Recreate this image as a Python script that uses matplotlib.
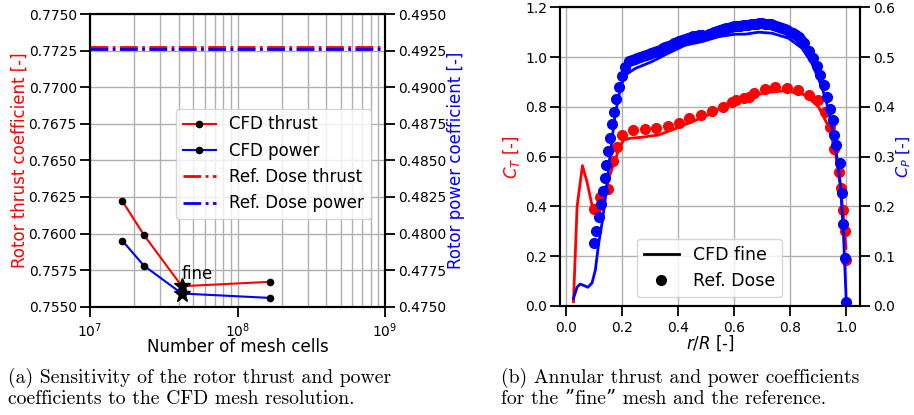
import numpy as np
import matplotlib
matplotlib.use("Agg")
import matplotlib.pyplot as plt

# (a) mesh sensitivity
mesh_cells = [1.66e7, 2.32e7, 4.19e7, 1.66e8]
ct_cfd = [0.7622, 0.7599, 0.7564, 0.7567]
cp_cfd = [0.4795, 0.4778, 0.4759, 0.4756]
ct_ref = 0.77275
cp_ref = 0.49262
fine_idx = 2

# (b) annular coefficients, CFD fine
r_cfd = [0.027, 0.040, 0.059, 0.075, 0.093, 0.105, 0.117, 0.130, 0.140, 0.155, 0.176,
         0.190, 0.206, 0.230, 0.271, 0.330, 0.378, 0.450, 0.520, 0.592, 0.650, 0.711,
         0.782, 0.854, 0.901, 0.937, 0.960, 0.979, 0.990, 0.999]
ct_line = [0.017, 0.40, 0.564, 0.50, 0.406, 0.385, 0.372, 0.40, 0.45, 0.52, 0.587,
           0.635, 0.667, 0.674, 0.678, 0.687, 0.707, 0.740, 0.774, 0.824, 0.840, 0.857,
           0.865, 0.848, 0.800, 0.720, 0.627, 0.480, 0.360, 0.232]
r_cfd_p = [0.027, 0.040, 0.051, 0.065, 0.078, 0.093, 0.105, 0.117, 0.130, 0.140, 0.152,
           0.164, 0.176, 0.188, 0.200, 0.212, 0.247, 0.307, 0.366, 0.426, 0.485, 0.545,
           0.604, 0.640, 0.687, 0.735, 0.794, 0.842, 0.877, 0.913, 0.937, 0.960, 0.979,
           0.990, 1.000]
cp_line = [0.015, 0.038, 0.044, 0.041, 0.0375, 0.046, 0.072, 0.126, 0.17, 0.213, 0.275,
           0.333, 0.385, 0.420, 0.447, 0.464, 0.477, 0.491, 0.508, 0.524, 0.531, 0.541,
           0.546, 0.546, 0.550, 0.548, 0.538, 0.518, 0.488, 0.440, 0.394, 0.327, 0.246,
           0.146, 0.009]

# (b) reference (Dose)
r_ref_t = [0.099, 0.123, 0.149, 0.167, 0.182, 0.200, 0.241, 0.283, 0.322, 0.363, 0.402,
           0.440, 0.482, 0.521, 0.559, 0.592, 0.608, 0.634, 0.652, 0.671, 0.709, 0.747,
           0.788, 0.828, 0.868, 0.899, 0.925, 0.943, 0.958, 0.975, 0.982, 0.987, 0.994,
           0.999]
ct_ref_pts = [0.390, 0.439, 0.468, 0.584, 0.640, 0.686, 0.707, 0.710, 0.714, 0.725, 0.737,
              0.757, 0.767, 0.783, 0.801, 0.821, 0.828, 0.837, 0.841, 0.857, 0.872, 0.879,
              0.877, 0.868, 0.848, 0.829, 0.781, 0.721, 0.629, 0.537, 0.473, 0.387, 0.300,
              0.185]
r_ref_p = [0.101, 0.108, 0.117, 0.125, 0.132, 0.138, 0.144, 0.150, 0.158, 0.164, 0.171,
           0.180, 0.189, 0.200, 0.212, 0.225, 0.235, 0.245, 0.255, 0.265, 0.275, 0.285,
           0.295, 0.305, 0.315, 0.325, 0.335, 0.345, 0.355, 0.365, 0.375, 0.385, 0.395,
           0.405, 0.415, 0.425, 0.435, 0.445, 0.455, 0.465, 0.475, 0.485, 0.510, 0.520,
           0.530, 0.540, 0.550, 0.560, 0.570, 0.580, 0.590, 0.600, 0.610, 0.620, 0.630,
           0.640, 0.650, 0.660, 0.670, 0.680, 0.690, 0.700, 0.710, 0.720, 0.730, 0.740,
           0.750, 0.760, 0.770, 0.780, 0.790, 0.800, 0.810, 0.820, 0.830, 0.840, 0.851,
           0.866, 0.881, 0.895, 0.907, 0.919, 0.931, 0.941, 0.951, 0.958, 0.965, 0.976,
           0.985, 0.989, 0.994, 1.000]
cp_ref_pts = [0.126, 0.151, 0.178, 0.205, 0.230, 0.258, 0.283, 0.312, 0.338, 0.365, 0.390,
              0.416, 0.440, 0.462, 0.480, 0.492, 0.495, 0.497, 0.498, 0.500, 0.502, 0.504,
              0.506, 0.508, 0.510, 0.513, 0.515, 0.518, 0.520, 0.523, 0.525, 0.528, 0.530,
              0.532, 0.535, 0.537, 0.539, 0.541, 0.542, 0.543, 0.544, 0.544, 0.547, 0.549,
              0.551, 0.553, 0.555, 0.556, 0.558, 0.559, 0.561, 0.562, 0.563, 0.563, 0.564,
              0.565, 0.565, 0.566, 0.567, 0.567, 0.568, 0.568, 0.567, 0.567, 0.566, 0.565,
              0.563, 0.561, 0.559, 0.557, 0.554, 0.551, 0.548, 0.544, 0.540, 0.535, 0.529,
              0.512, 0.499, 0.482, 0.465, 0.443, 0.420, 0.395, 0.374, 0.344, 0.323, 0.287,
              0.226, 0.165, 0.096, 0.007]

caption_a = "(a) Sensitivity of the rotor thrust and power\ncoefficients to the CFD mesh resolution."
caption_b = "(b) Annular thrust and power coefficients\nfor the \u201dfine\u201d mesh and the reference."

plt.rcParams['font.family'] = ['DejaVu Sans']
plt.rcParams['axes.linewidth'] = 1.5
plt.rcParams['xtick.major.size'] = 7
plt.rcParams['ytick.major.size'] = 7
plt.rcParams['xtick.major.width'] = 1.3
plt.rcParams['ytick.major.width'] = 1.3
plt.rcParams['xtick.labelsize'] = 10
plt.rcParams['ytick.labelsize'] = 10
plt.rcParams['ytick.major.pad'] = 2.5
plt.rcParams['grid.color'] = '#b0b0b0'
plt.rcParams['grid.linewidth'] = 1.0

fig = plt.figure(figsize=(9.14, 4.15), dpi=100)

# ---- (a)
ax1 = fig.add_axes([0.0985, 0.261, 0.3228, 0.705])
ax1.set_xscale('log')
ax1.set_xlim(1e7, 1e9)
ax1.set_ylim(0.755, 0.775)
ax1.set_yticks(np.arange(0.755, 0.7751, 0.0025))
ax1.yaxis.set_major_formatter(matplotlib.ticker.FormatStrFormatter('%.4f'))
ax1.grid(True, which='both', axis='x')
ax1.grid(True, which='major', axis='y')
ax1.tick_params(axis='x', which='minor', length=0)
ax1.set_axisbelow(True)

l1, = ax1.plot(mesh_cells, ct_cfd, color='red', lw=1.5, marker='o', ms=4.5,
               mfc='black', mec='black', label='CFD thrust')
ax1.plot(mesh_cells[fine_idx], ct_cfd[fine_idx], marker='*', color='black', ms=12, zorder=5)
l3 = ax1.axhline(ct_ref, color='red', lw=2, ls='-.', label='Ref. Dose thrust')
ax1.text(mesh_cells[fine_idx], 0.7569, 'fine', fontsize=12)
ax1.set_xlabel('Number of mesh cells', fontsize=12, labelpad=-1)
ax1.set_ylabel('Rotor thrust coefficient [-]', color='red', fontsize=12, labelpad=0)

ax2 = ax1.twinx()
ax2.set_ylim(0.475, 0.495)
ax2.set_yticks(np.arange(0.475, 0.4951, 0.0025))
ax2.yaxis.set_major_formatter(matplotlib.ticker.FormatStrFormatter('%.4f'))
l2, = ax2.plot(mesh_cells, cp_cfd, color='blue', lw=1.5, marker='o', ms=4.5,
               mfc='black', mec='black', label='CFD power')
ax2.plot(mesh_cells[fine_idx], cp_cfd[fine_idx], marker='*', color='black', ms=12, zorder=5)
l4 = ax2.axhline(cp_ref, color='blue', lw=2, ls='-.', label='Ref. Dose power')
ax2.set_ylabel('Rotor power coefficient [-]', color='blue', fontsize=12, labelpad=0)
ax2.legend([l1, l2, l3, l4], [h.get_label() for h in [l1, l2, l3, l4]],
           loc='upper right', bbox_to_anchor=(0.98, 0.705), fontsize=12,
           framealpha=0.8)

# ---- (b)
ax3 = fig.add_axes([0.613, 0.2627, 0.3282, 0.7197])
ax3.set_xlim(-0.02, 1.05)
ax3.set_ylim(0, 1.2)
ax3.set_xticks(np.arange(0, 1.01, 0.2))
ax3.set_yticks(np.arange(0, 1.21, 0.2))
ax3.grid(True)
ax3.set_axisbelow(True)
ax3.plot(r_cfd, ct_line, color='red', lw=2)
ax3.plot(r_ref_t, ct_ref_pts, 'o', color='red', ms=7)
ax3.set_xlabel('$r/R$ [-]', fontsize=12, labelpad=-1)
ax3.set_ylabel('$C_T$ [-]', color='red', fontsize=12, labelpad=2)

ax4 = ax3.twinx()
ax4.set_ylim(0, 0.6)
ax4.set_yticks(np.arange(0, 0.61, 0.1))
ax4.tick_params(axis='y', pad=2)
ax4.plot(r_cfd_p, cp_line, color='blue', lw=2)
ax4.plot(r_ref_p, cp_ref_pts, 'o', color='blue', ms=7)
ax4.set_ylabel('$C_P$ [-]', color='blue', fontsize=11.5, labelpad=0)
h1, = ax4.plot([], [], color='black', lw=2, label='CFD fine')
h2, = ax4.plot([], [], 'o', color='black', ms=7, label='Ref. Dose')
ax4.legend(handles=[h1, h2], loc='lower center', bbox_to_anchor=(0.497, 0.0),
           fontsize=12.5, framealpha=0.8)

cap_font = dict(family=['cmr10', 'DejaVu Serif'], fontsize=14.2, linespacing=1.15)
fig.text(0.009, 0.027, caption_a, **cap_font)
fig.text(0.548, 0.027, caption_b, **cap_font)

fig.savefig('out.png', dpi=100)
